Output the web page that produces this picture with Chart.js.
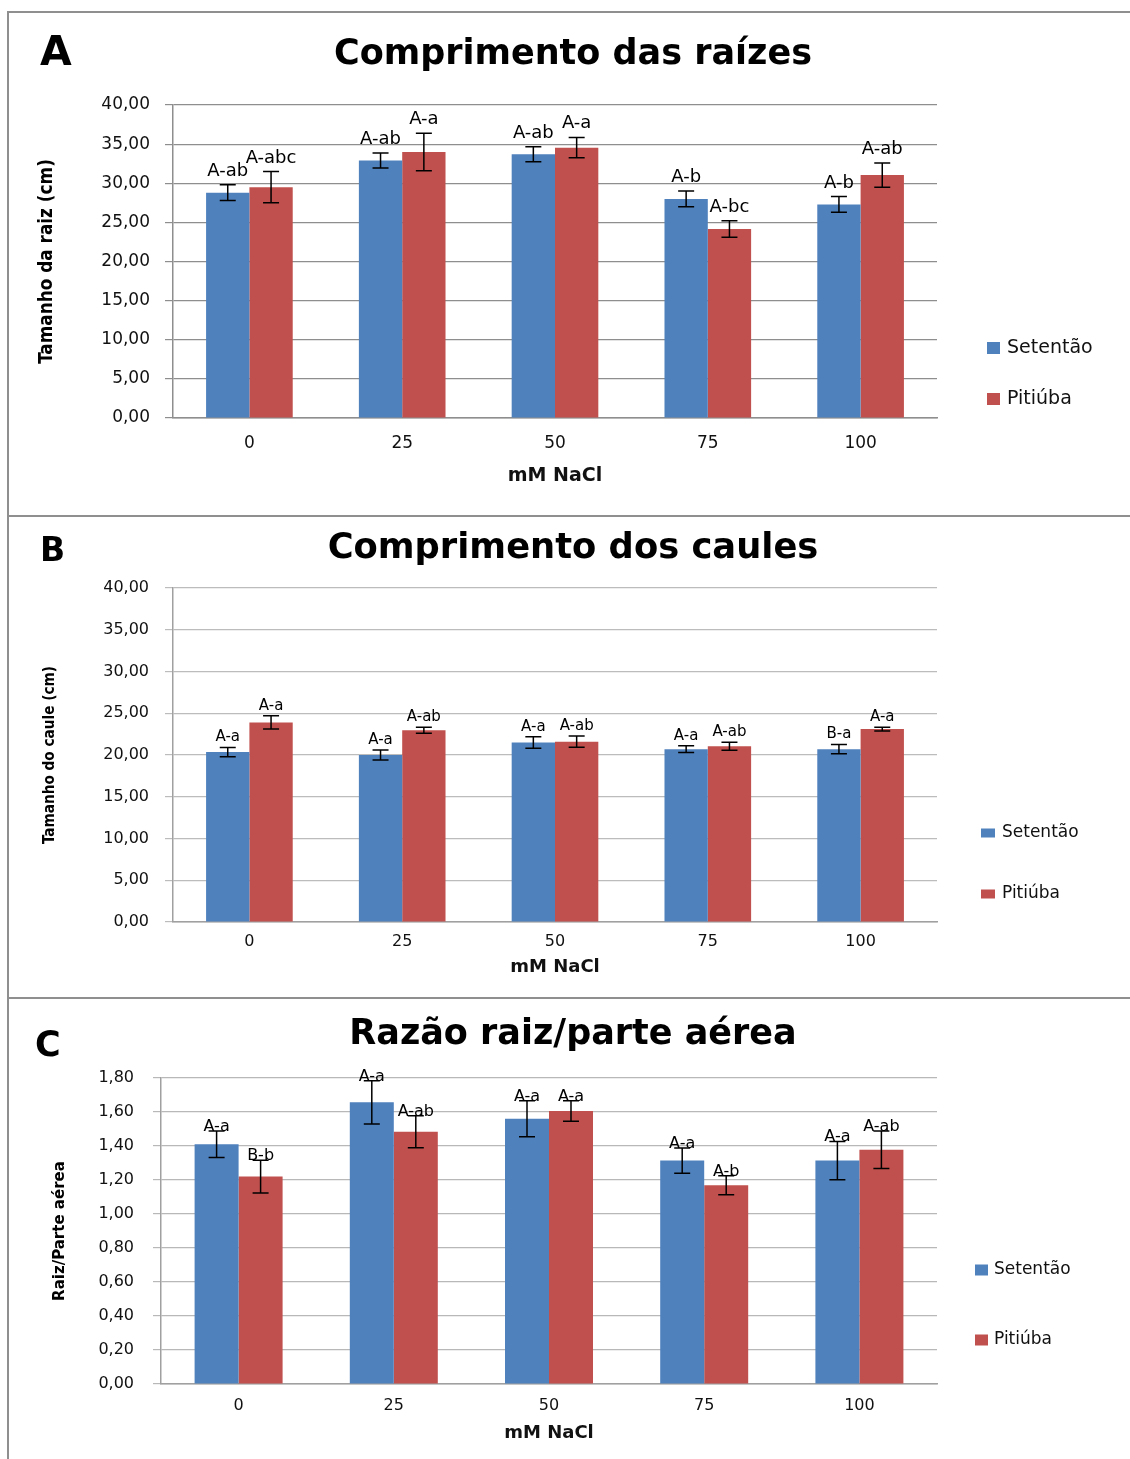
<!DOCTYPE html>
<html><head><meta charset="utf-8">
<script src="https://cdn.jsdelivr.net/npm/chart.js@4.4.1/dist/chart.umd.min.js"></script>
<style>
html,body{margin:0;padding:0;background:#fff;overflow:hidden;width:1130px;height:1459px;position:relative;}
.frame{position:absolute;background:#8f8f8f;}
.panel{position:absolute;left:10px;width:1126px;}
canvas{display:block;}
</style></head><body>
<div class="frame" style="left:7px;top:11px;width:2px;height:1448px"></div>
<div class="frame" style="left:7px;top:11px;width:1123px;height:2px"></div>
<div class="frame" style="left:7px;top:515px;width:1123px;height:2px"></div>
<div class="frame" style="left:7px;top:997px;width:1123px;height:2px"></div>
<div class="panel" style="top:14px;height:501px"><canvas id="cA" width="1126" height="501"></canvas></div>
<div class="panel" style="top:518px;height:479px"><canvas id="cB" width="1126" height="479"></canvas></div>
<div class="panel" style="top:1000px;height:459px"><canvas id="cC" width="1126" height="459"></canvas></div>
<script>
// ---------- data ----------
const categories = ['0', '25', '50', '75', '100'];
const seriesNames = ['Setentão', 'Pitiúba'];

const rootSetentao = [28.8, 32.9, 33.7, 28.0, 27.3];
const rootSetentaoErr = [1.0, 0.95, 0.95, 1.0, 1.0];
const rootPitiuba = [29.5, 34.0, 34.55, 24.15, 31.05];
const rootPitiubaErr = [2.0, 2.4, 1.3, 1.05, 1.55];
const rootSetentaoLetters = ['A-ab', 'A-ab', 'A-ab', 'A-b', 'A-b'];
const rootPitiubaLetters = ['A-abc', 'A-a', 'A-a', 'A-bc', 'A-ab'];
const rootTicks = ['0,00', '5,00', '10,00', '15,00', '20,00', '25,00', '30,00', '35,00', '40,00'];

const stemSetentao = [20.35, 20.0, 21.5, 20.7, 20.7];
const stemSetentaoErr = [0.55, 0.6, 0.68, 0.4, 0.56];
const stemPitiuba = [23.9, 22.95, 21.6, 21.05, 23.1];
const stemPitiubaErr = [0.8, 0.36, 0.68, 0.48, 0.22];
const stemSetentaoLetters = ['A-a', 'A-a', 'A-a', 'A-a', 'B-a'];
const stemPitiubaLetters = ['A-a', 'A-ab', 'A-ab', 'A-ab', 'A-a'];
const stemTicks = ['0,00', '5,00', '10,00', '15,00', '20,00', '25,00', '30,00', '35,00', '40,00'];

const ratioSetentao = [1.41, 1.657, 1.56, 1.314, 1.314];
const ratioSetentaoErr = [0.078, 0.127, 0.106, 0.074, 0.113];
const ratioPitiuba = [1.22, 1.484, 1.606, 1.169, 1.378];
const ratioPitiubaErr = [0.096, 0.094, 0.06, 0.056, 0.11];
const ratioSetentaoLetters = ['A-a', 'A-a', 'A-a', 'A-a', 'A-a'];
const ratioPitiubaLetters = ['B-b', 'A-ab', 'A-a', 'A-b', 'A-ab'];
const ratioTicks = ['0,00', '0,20', '0,40', '0,60', '0,80', '1,00', '1,20', '1,40', '1,60', '1,80'];

// ---------- styling ----------
const BLUE = '#4F81BD', RED = '#C0504D';
const F = "'DejaVu Sans', 'Open Sans', sans-serif";
const NARROW = "'DejaVu Sans Condensed', 'Liberation Sans Narrow', 'Roboto Condensed', 'Liberation Sans', sans-serif";

function fitSize(text, weight, family, target, maxSize) {
  const c = document.createElement('canvas').getContext('2d');
  c.font = weight + ' 100px ' + family;
  const w = c.measureText(text).width;
  return Math.min(maxSize, Math.round(1000 * target / w) / 10);
}

const errorBarPlugin = {
  id: 'errorBars',
  afterDatasetsDraw(chart, args, o) {
    const ctx = chart.ctx, y = chart.scales.y;
    chart.data.datasets.forEach((ds, i) => {
      const meta = chart.getDatasetMeta(i);
      meta.data.forEach((bar, j) => {
        const v = ds.data[j], e = ds.errors[j];
        const top = y.getPixelForValue(v + e), bot = y.getPixelForValue(v - e);
        ctx.save();
        ctx.strokeStyle = '#000'; ctx.lineWidth = 1.5;
        ctx.beginPath();
        ctx.moveTo(bar.x, top); ctx.lineTo(bar.x, bot);
        ctx.moveTo(bar.x - o.cap, top); ctx.lineTo(bar.x + o.cap, top);
        ctx.moveTo(bar.x - o.cap, bot); ctx.lineTo(bar.x + o.cap, bot);
        ctx.stroke();
        ctx.fillStyle = '#000'; ctx.font = o.font;
        ctx.textAlign = 'center'; ctx.textBaseline = 'alphabetic';
        ctx.fillText(ds.letters[j], bar.x, top - o.gap);
        ctx.restore();
      });
    });
  }
};

const decorPlugin = {
  id: 'decor',
  afterDraw(chart, args, o) {
    const ctx = chart.ctx;
    ctx.save();
    ctx.fillStyle = '#000'; ctx.font = o.letterFont;
    ctx.textAlign = 'left'; ctx.textBaseline = 'alphabetic';
    ctx.fillText(o.letter, o.letterX, o.letterY);
    chart.data.datasets.forEach((ds, i) => {
      const yy = o.legendY[i];
      ctx.fillStyle = ds.backgroundColor;
      ctx.fillRect(o.boxX, yy - o.boxH / 2, o.boxW, o.boxH);
      ctx.fillStyle = '#111'; ctx.font = o.legendFont;
      ctx.textAlign = 'left'; ctx.textBaseline = 'middle';
      ctx.fillText(ds.label, o.textX, yy);
    });
    ctx.restore();
  }
};

function makeChart(id, p) {
  const titleSize = fitSize(p.title, 'bold', F, p.titleWidth, 40);
  const yTitleSize = fitSize(p.yTitle, 'bold', NARROW, p.yTitleLen, p.yTitleMax);
  const xTitleSize = fitSize('mM NaCl', 'bold', F, p.xTitleWidth, p.xTitleMax);
  return new Chart(document.getElementById(id), {
    type: 'bar',
    data: {
      labels: categories,
      datasets: [
        { label: seriesNames[0], data: p.set, errors: p.setErr, letters: p.setLetters, backgroundColor: BLUE },
        { label: seriesNames[1], data: p.pit, errors: p.pitErr, letters: p.pitLetters, backgroundColor: RED }
      ]
    },
    plugins: [errorBarPlugin, decorPlugin],
    options: {
      responsive: false, animation: false,
      datasets: { bar: { categoryPercentage: 0.567, barPercentage: 1.0 } },
      layout: { padding: 0 },
      plugins: {
        legend: { display: false },
        tooltip: { enabled: false },
        title: {
          display: true, text: p.title, color: '#000',
          font: { family: F, size: titleSize, weight: 'bold' },
          padding: { top: p.titleCY - 0.6 * titleSize, bottom: p.top - p.titleCY - 0.6 * titleSize }
        },
        errorBars: { cap: 8, gap: p.labelGap, font: p.labelSize + 'px ' + F },
        decor: {
          letter: p.letter, letterX: p.letterX, letterY: p.letterY,
          letterFont: 'bold ' + p.letterSize + 'px ' + F,
          legendY: p.legendY, boxX: p.boxX, boxW: p.boxW, boxH: p.boxH, textX: p.textX,
          legendFont: p.legendSize + 'px ' + F
        }
      },
      scales: {
        x: {
          grid: { display: false, drawTicks: false },
          border: { display: true, color: p.axisColor, width: 1.5 },
          ticks: { color: '#111', font: { family: F, size: p.xTickSize }, padding: p.xTickCY - 0.6 * p.xTickSize },
          title: {
            display: true, text: 'mM NaCl', color: '#111',
            font: { family: F, size: xTitleSize, weight: 'bold' },
            padding: { top: 0, bottom: p.height - p.xTitleCY - 0.6 * xTitleSize }
          },
          afterFit(s) { s.height = p.height - p.bottom; }
        },
        y: {
          min: 0, max: p.yMax,
          ticks: {
            stepSize: p.step, color: '#111', font: { family: F, size: p.yTickSize },
            padding: p.left - 8 - p.yTickRight,
            callback: (v, i) => p.ticks[i]
          },
          grid: { color: p.gridColor, lineWidth: 1.2, drawTicks: true, tickLength: 8 },
          border: { display: true, color: p.axisColor, width: 1.5 },
          title: {
            display: true, text: p.yTitle, color: '#000',
            font: { family: NARROW, size: yTitleSize, weight: 'bold' },
            padding: { top: p.yTitleCX - 0.6 * yTitleSize, bottom: 0 }
          },
          afterFit(s) { s.width = p.left; }
        },
        y2: {
          position: 'right', display: true,
          grid: { display: false, drawTicks: false }, border: { display: false },
          ticks: { display: false },
          afterFit(s) { s.width = 1126 - p.right; }
        }
      }
    }
  });
}

makeChart('cA', {
  title: 'Comprimento das raízes', titleWidth: 478, titleCY: 41,
  yTitle: 'Tamanho da raiz (cm)', yTitleLen: 205, yTitleMax: 19, yTitleCX: 37,
  xTitleWidth: 101, xTitleMax: 19, xTitleCY: 462,
  set: rootSetentao, setErr: rootSetentaoErr, setLetters: rootSetentaoLetters,
  pit: rootPitiuba, pitErr: rootPitiubaErr, pitLetters: rootPitiubaLetters,
  ticks: rootTicks, yMax: 40, step: 5,
  height: 501, top: 91, bottom: 404, left: 163, right: 927,
  xTickSize: 17, xTickCY: 26, yTickSize: 17, yTickRight: 140,
  gridColor: '#8e8e8e', axisColor: '#8e8e8e',
  labelGap: 9, labelSize: 18,
  letter: 'A', letterX: 30, letterY: 51, letterSize: 41,
  legendY: [334, 385], boxX: 977, boxW: 13, boxH: 12, textX: 997, legendSize: 19
});

makeChart('cB', {
  title: 'Comprimento dos caules', titleWidth: 491, titleCY: 31,
  yTitle: 'Tamanho do caule (cm)', yTitleLen: 178, yTitleMax: 16, yTitleCX: 40,
  xTitleWidth: 101, xTitleMax: 18, xTitleCY: 449,
  set: stemSetentao, setErr: stemSetentaoErr, setLetters: stemSetentaoLetters,
  pit: stemPitiuba, pitErr: stemPitiubaErr, pitLetters: stemPitiubaLetters,
  ticks: stemTicks, yMax: 40, step: 5,
  height: 479, top: 70, bottom: 404, left: 163, right: 927,
  xTickSize: 16, xTickCY: 20, yTickSize: 16, yTickRight: 139,
  gridColor: '#bcbcbc', axisColor: '#a0a0a0',
  labelGap: 6, labelSize: 15,
  letter: 'B', letterX: 30, letterY: 43, letterSize: 33,
  legendY: [315, 376], boxX: 971, boxW: 14, boxH: 9, textX: 992, legendSize: 17
});

makeChart('cC', {
  title: 'Razão raiz/parte aérea', titleWidth: 448, titleCY: 35,
  yTitle: 'Raiz/Parte aérea', yTitleLen: 140, yTitleMax: 18, yTitleCX: 50,
  xTitleWidth: 103, xTitleMax: 18, xTitleCY: 433,
  set: ratioSetentao, setErr: ratioSetentaoErr, setLetters: ratioSetentaoLetters,
  pit: ratioPitiuba, pitErr: ratioPitiubaErr, pitLetters: ratioPitiubaLetters,
  ticks: ratioTicks, yMax: 1.8, step: 0.2,
  height: 459, top: 78, bottom: 384, left: 151, right: 927,
  xTickSize: 16, xTickCY: 22, yTickSize: 16, yTickRight: 124,
  gridColor: '#b8b8b8', axisColor: '#a0a0a0',
  labelGap: 0, labelSize: 16,
  letter: 'C', letterX: 25, letterY: 56, letterSize: 35,
  legendY: [270, 340], boxX: 965, boxW: 13, boxH: 11, textX: 984, legendSize: 17
});
</script>
</body></html>
